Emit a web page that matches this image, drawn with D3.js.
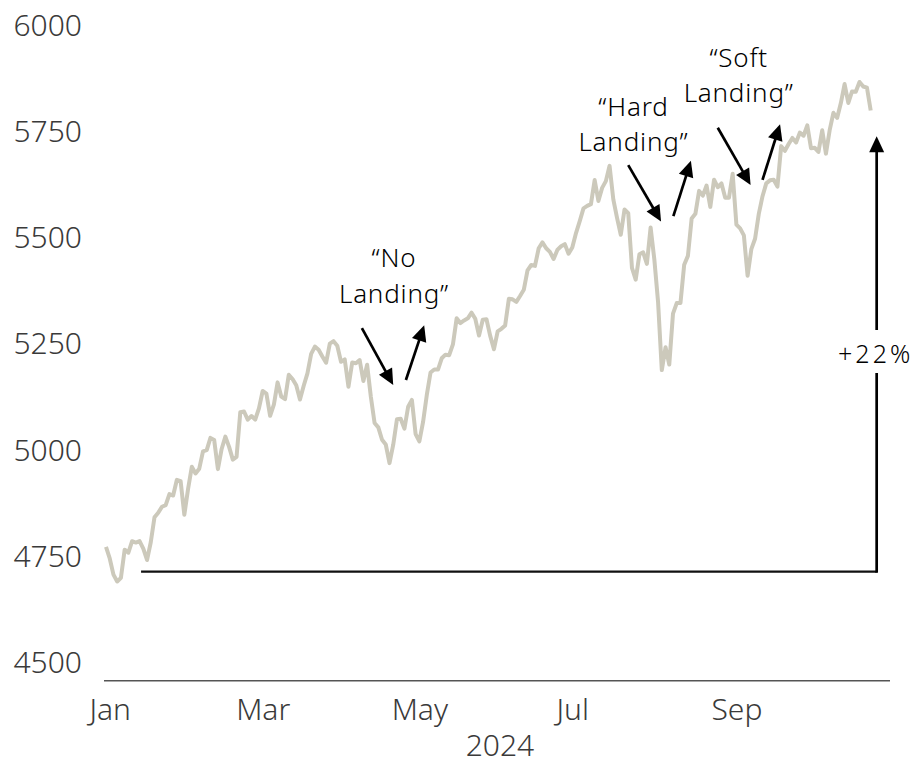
<!DOCTYPE html>
<html>
<head>
<meta charset="utf-8">
<script src="https://cdn.jsdelivr.net/npm/d3@7"></script>
<style>
  body { margin: 0; background: #fff; }
  svg { display: block; font-family: "Noto Sans", "Open Sans", sans-serif; }
</style>
</head>
<body>
<svg id="chart" width="915" height="766"></svg>
<script>
// S&P 500 daily closes, one entry per trading day
var tradingDays = [
  "2023-12-29","2024-01-02","2024-01-03","2024-01-04","2024-01-05","2024-01-08","2024-01-09","2024-01-10","2024-01-11","2024-01-12",
  "2024-01-16","2024-01-17","2024-01-18","2024-01-19","2024-01-22","2024-01-23","2024-01-24","2024-01-25","2024-01-26","2024-01-29",
  "2024-01-30","2024-01-31","2024-02-01","2024-02-02","2024-02-05","2024-02-06","2024-02-07","2024-02-08","2024-02-09","2024-02-12",
  "2024-02-13","2024-02-14","2024-02-15","2024-02-16","2024-02-20","2024-02-21","2024-02-22","2024-02-23","2024-02-26","2024-02-27",
  "2024-02-28","2024-02-29","2024-03-01","2024-03-04","2024-03-05","2024-03-06","2024-03-07","2024-03-08","2024-03-11","2024-03-12",
  "2024-03-13","2024-03-14","2024-03-15","2024-03-18","2024-03-19","2024-03-20","2024-03-21","2024-03-22","2024-03-25","2024-03-26",
  "2024-03-27","2024-03-28","2024-04-01","2024-04-02","2024-04-03","2024-04-04","2024-04-05","2024-04-08","2024-04-09","2024-04-10",
  "2024-04-11","2024-04-12","2024-04-15","2024-04-16","2024-04-17","2024-04-18","2024-04-19","2024-04-22","2024-04-23","2024-04-24",
  "2024-04-25","2024-04-26","2024-04-29","2024-04-30","2024-05-01","2024-05-02","2024-05-03","2024-05-06","2024-05-07","2024-05-08",
  "2024-05-09","2024-05-10","2024-05-13","2024-05-14","2024-05-15","2024-05-16","2024-05-17","2024-05-20","2024-05-21","2024-05-22",
  "2024-05-23","2024-05-24","2024-05-28","2024-05-29","2024-05-30","2024-05-31","2024-06-03","2024-06-04","2024-06-05","2024-06-06",
  "2024-06-07","2024-06-10","2024-06-11","2024-06-12","2024-06-13","2024-06-14","2024-06-17","2024-06-18","2024-06-20","2024-06-21",
  "2024-06-24","2024-06-25","2024-06-26","2024-06-27","2024-06-28","2024-07-01","2024-07-02","2024-07-03","2024-07-05","2024-07-08",
  "2024-07-09","2024-07-10","2024-07-11","2024-07-12","2024-07-15","2024-07-16","2024-07-17","2024-07-18","2024-07-19","2024-07-22",
  "2024-07-23","2024-07-24","2024-07-25","2024-07-26","2024-07-29","2024-07-30","2024-07-31","2024-08-01","2024-08-02","2024-08-05",
  "2024-08-06","2024-08-07","2024-08-08","2024-08-09","2024-08-12","2024-08-13","2024-08-14","2024-08-15","2024-08-16","2024-08-19",
  "2024-08-20","2024-08-21","2024-08-22","2024-08-23","2024-08-26","2024-08-27","2024-08-28","2024-08-29","2024-08-30","2024-09-03",
  "2024-09-04","2024-09-05","2024-09-06","2024-09-09","2024-09-10","2024-09-11","2024-09-12","2024-09-13","2024-09-16","2024-09-17",
  "2024-09-18","2024-09-19","2024-09-20","2024-09-23","2024-09-24","2024-09-25","2024-09-26","2024-09-27","2024-09-30","2024-10-01",
  "2024-10-02","2024-10-03","2024-10-04","2024-10-07","2024-10-08","2024-10-09","2024-10-10","2024-10-11","2024-10-14","2024-10-15",
  "2024-10-16","2024-10-17","2024-10-18","2024-10-21","2024-10-22","2024-10-23"
];
var closes = [
  4769.83,4742.83,4704.81,4688.68,4697.24,4763.54,4756.50,4783.45,4780.24,4783.83,
  4765.98,4739.21,4780.94,4839.81,4850.43,4864.60,4868.55,4894.16,4890.97,4927.93,
  4924.97,4845.65,4906.19,4958.61,4942.81,4954.23,4995.06,4997.91,5026.61,5021.84,
  4953.17,5000.62,5029.73,5005.57,4975.51,4981.80,5087.03,5088.80,5069.53,5078.18,
  5069.76,5096.27,5137.08,5130.95,5078.65,5104.76,5157.36,5123.69,5117.94,5175.27,
  5165.31,5150.48,5117.09,5149.42,5178.51,5224.62,5241.53,5234.18,5218.19,5203.58,
  5248.49,5254.35,5243.77,5205.81,5211.49,5147.21,5204.34,5202.39,5209.91,5160.64,
  5199.06,5123.41,5061.82,5051.41,5022.21,5011.12,4967.23,5010.60,5070.55,5071.63,
  5048.42,5099.96,5116.17,5035.69,5018.39,5064.20,5127.79,5180.74,5187.70,5187.67,
  5214.08,5222.68,5221.42,5246.68,5308.15,5297.10,5303.27,5308.13,5321.41,5307.01,
  5267.84,5304.72,5306.04,5266.95,5235.48,5277.51,5283.40,5291.34,5354.03,5352.96,
  5346.99,5360.79,5375.32,5421.03,5433.74,5431.60,5473.23,5487.03,5473.17,5464.62,
  5447.87,5469.30,5477.90,5482.87,5460.48,5475.09,5509.01,5537.02,5567.19,5572.85,
  5576.98,5633.91,5584.54,5615.35,5631.22,5667.20,5588.27,5544.59,5505.00,5564.41,
  5555.74,5427.13,5399.22,5459.10,5463.54,5436.44,5522.30,5446.68,5346.56,5186.33,
  5240.03,5199.50,5319.31,5344.16,5344.39,5434.43,5455.21,5543.22,5554.25,5608.25,
  5597.12,5620.85,5570.64,5634.61,5616.84,5625.80,5592.18,5591.96,5648.40,5528.93,
  5520.07,5503.41,5408.42,5471.05,5495.52,5554.13,5595.76,5626.02,5633.09,5634.58,
  5618.26,5713.64,5702.55,5718.57,5732.93,5722.26,5745.37,5738.17,5762.48,5708.75,
  5709.54,5699.94,5751.07,5695.94,5751.13,5792.04,5780.05,5815.03,5859.85,5815.26,
  5842.47,5841.47,5864.67,5853.98,5851.20,5797.42
];

var monthTicks = ["2024-01-02","2024-03-01","2024-05-01","2024-07-01","2024-09-03"];
var monthLabels = ["Jan","Mar","May","Jul","Sep"];
var yTicks = [4500,4750,5000,5250,5500,5750,6000];

// annotations, in trading-day index / index level
var arrows = [
  [68.6,5285,77.0,5151],[80.4,5163,85.3,5292],
  [140.0,5669,148.8,5536],[152.1,5549,156.8,5679],
  [164.0,5757,172.8,5622],[176.0,5634,180.7,5765]
];
var labelPos = [[77.2,5429],[141.4,5785],[169.6,5900]];
var labelText = [["\u201CNo","Landing\u201D"],["\u201CHard","Landing\u201D"],["\u201CSoft","Landing\u201D"]];
var gainBase = 4712, gainTop = 5737, gainFrom = 9.4, gainAt = 206.6;

var svg = d3.select("#chart");

var x = d3.scaleLinear().domain([0, tradingDays.length - 1]).range([106, 870.7]);
var y = d3.scaleLinear().domain([4455, 6000]).range([680.7, 24.5]);

// y labels
var ya = svg.append("g").attr("transform", "translate(82,0)")
  .call(d3.axisLeft(y).tickValues(yTicks).tickFormat(d3.format("d")).tickSize(0).tickPadding(0));
ya.attr("font-family", null).attr("font-size", null);
ya.select(".domain").remove();
ya.selectAll("text").attr("dy", "0.36em").style("font-size", "30px").style("font-weight", 300).attr("fill", "#3a3a3a");

// x labels
var xa = svg.append("g").attr("transform", "translate(0,680.7)")
  .call(d3.axisBottom(x).tickValues(monthTicks.map(function(d){ return tradingDays.indexOf(d); }))
    .tickFormat(function(d, i){ return monthLabels[i]; }).tickSize(0).tickPadding(18));
xa.attr("font-family", null).attr("font-size", null);
xa.select(".domain").remove();
xa.selectAll("text").style("font-size", "30px").style("font-weight", 300).attr("fill", "#3a3a3a");

svg.append("line").attr("x1", 104).attr("x2", 890).attr("y1", y(4455)).attr("y2", y(4455))
  .attr("stroke", "#555").attr("stroke-width", 1.5);
svg.append("text").attr("x", 500).attr("y", 756).attr("text-anchor", "middle")
  .style("font-size", "30px").style("font-weight", 300).attr("fill", "#3a3a3a").text("2024");

// price line
svg.append("path").datum(closes)
  .attr("fill", "none").attr("stroke", "#ccc9bb").attr("stroke-width", 4).attr("stroke-linejoin", "round")
  .attr("d", d3.line().x(function(d, i){ return x(i); }).y(function(d){ return y(d); }));

// arrow helper: line shortened so the head sits on the tip
function arrow(x1, y1, x2, y2) {
  var dx = x2 - x1, dy = y2 - y1, len = Math.sqrt(dx*dx + dy*dy);
  var ux = dx / len, uy = dy / len, hl = 16, hw = 7.5;
  svg.append("line").attr("x1", x1).attr("y1", y1).attr("x2", x2 - ux*hl*0.8).attr("y2", y2 - uy*hl*0.8)
    .attr("stroke", "#000").attr("stroke-width", 2.7);
  var bx = x2 - ux*hl, by = y2 - uy*hl;
  svg.append("path").attr("fill", "#000")
    .attr("d", "M" + x2 + "," + y2 + "L" + (bx - uy*hw) + "," + (by + ux*hw) + "L" + (bx + uy*hw) + "," + (by - ux*hw) + "Z");
}

arrows.forEach(function(a){ arrow(x(a[0]), y(a[1]), x(a[2]), y(a[3])); });

labelPos.forEach(function(p, k){
  var t = svg.append("text").attr("x", x(p[0])).attr("y", y(p[1])).attr("text-anchor", "middle")
    .style("font-size", "26px").style("font-weight", 300).style("letter-spacing", "0.8px").attr("fill", "#000");
  labelText[k].forEach(function(s, j){
    t.append("tspan").attr("x", x(p[0])).attr("dy", j ? 35.5 : 0).text(s);
  });
});

// +22% bracket
svg.append("line").attr("x1", x(gainFrom)).attr("x2", x(gainAt)).attr("y1", y(gainBase)).attr("y2", y(gainBase))
  .attr("stroke", "#111").attr("stroke-width", 2.2);
arrow(x(gainAt), y(gainBase) + 1.1, x(gainAt), y(gainTop));
var gap = svg.append("rect").attr("fill", "#fff");
var gt = svg.append("text").attr("x", x(gainAt) - 1).attr("y", 363).attr("text-anchor", "middle")
  .style("font-size", "25px").style("font-weight", 300).style("letter-spacing", "3px")
  .attr("fill", "#000").text("+22%");
var bb = gt.node().getBBox();
gap.attr("x", bb.x - 2).attr("y", 330).attr("width", bb.width + 4).attr("height", 43);
</script>
</body>
</html>
